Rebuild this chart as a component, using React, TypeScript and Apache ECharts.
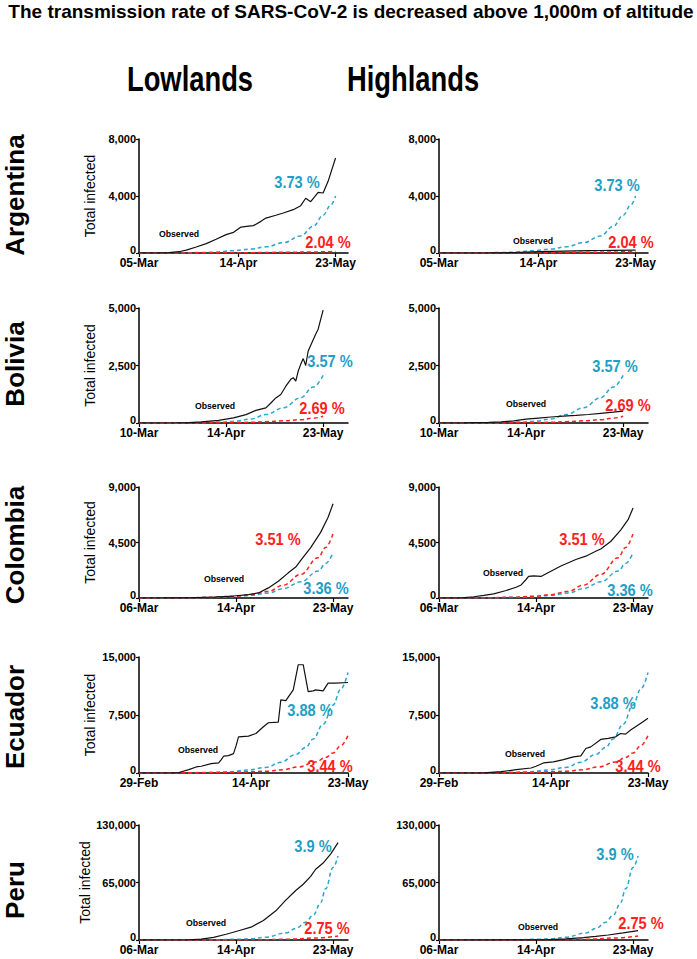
import React, { useEffect, useRef } from "react";
import * as echarts from "echarts";

// ---------- axis categories (dates) ----------
const MONTHS = ["Jan", "Feb", "Mar", "Apr", "May", "Jun", "Jul"];
const DAY_COUNT = 85; // 0..84 days shown on each axis

// start dates (month, day) per country
const argStart = [3, 5];
const bolStart = [3, 10];
const colStart = [3, 6];
const ecuStart = [2, 29];
const perStart = [3, 6];

// labelled ticks (day offsets): first date, 14-Apr, 23-May
const argTicks = [0, 40, 79];
const bolTicks = [0, 35, 74];
const colTicks = [0, 39, 78];
const ecuTicks = [0, 45, 84];
const perTicks = [0, 39, 78];

// y-axis maxima
const yMaxes = [8000, 5000, 9000, 15000, 130000];

// ---------- data: [day offset, total infected] ----------
// Argentina
const argLowObs = [[0, 0], [8, 5], [12, 25], [16, 90], [19, 200], [23, 420], [27, 660], [31, 960], [35, 1290], [38, 1450], [41, 1820], [44, 1880], [46, 1920], [49, 2220], [51, 2450], [55, 2650], [58, 2810], [62, 3040], [65, 3320], [67, 3840], [69, 3600], [72, 4260], [74, 4210], [76, 5030], [79, 6670]];
const argHighObs = [[0, 0], [20, 5], [25, 15], [30, 35], [35, 60], [40, 90], [45, 115], [50, 135], [55, 150], [60, 165], [65, 175], [70, 185], [79, 200]];
const argBlue = [[0, 0], [15, 10], [25, 30], [30, 60], [38, 160], [45, 280], [51, 430], [58, 720], [65, 1200], [70, 1870], [74, 2650], [77, 3350], [79, 4000]];
const argRed = [[0, 0], [30, 10], [45, 25], [60, 50], [70, 75], [79, 100]];

// Bolivia
const bolLowObs = [[0, 0], [15, 10], [20, 20], [25, 45], [32, 115], [38, 220], [43, 365], [47, 550], [51, 660], [53, 870], [55, 1090], [57, 1240], [59, 1600], [61, 1900], [62, 1970], [63, 1820], [64, 2260], [65, 2550], [66, 2800], [67, 2500], [68, 3130], [71, 3860], [72, 4080], [74, 4910]];
const bolHighObs = [[0, 0], [10, 5], [20, 25], [25, 50], [30, 90], [35, 170], [40, 215], [45, 260], [50, 295], [55, 330], [60, 370], [65, 420], [70, 470], [74, 520]];
const bolBlue = [[0, 0], [15, 5], [25, 15], [32, 40], [38, 75], [45, 175], [51, 365], [58, 660], [65, 1100], [70, 1560], [74, 2070]];
const bolRed = [[0, 0], [25, 5], [38, 15], [45, 30], [51, 58], [58, 95], [65, 146], [70, 210], [74, 290]];

// Colombia
const colLowObs = [[0, 0], [10, 5], [20, 20], [30, 80], [38, 160], [44, 270], [48, 410], [52, 820], [56, 1360], [60, 2040], [63, 2510], [65, 3050], [69, 4090], [73, 5320], [76, 6550], [78, 7640]];
const colHighObs = [[0, 0], [9, 10], [14, 100], [18, 210], [22, 340], [27, 610], [31, 870], [33, 1060], [35, 1500], [36, 1750], [38, 1800], [41, 1750], [44, 2070], [49, 2590], [55, 3120], [59, 3390], [63, 3790], [65, 3970], [69, 4580], [73, 5510], [76, 6350], [78, 7300]];
const colRed = [[0, 0], [20, 20], [30, 60], [38, 140], [45, 270], [52, 545], [58, 1040], [65, 1910], [72, 3270], [75, 4100], [78, 5230]];
const colBlue = [[0, 0], [20, 15], [30, 50], [38, 110], [45, 220], [52, 410], [58, 760], [65, 1310], [72, 2180], [75, 2800], [78, 3680]];

// Ecuador
const ecuLowObs = [[0, 0], [14, 10], [16, 60], [20, 430], [23, 780], [25, 870], [29, 1210], [32, 1300], [33, 1700], [34, 2170], [36, 2250], [38, 2510], [39, 3500], [40, 4680], [44, 4770], [47, 5110], [50, 5980], [52, 6500], [56, 6590], [57, 9450], [59, 9360], [62, 10750], [64, 14000], [66, 14000], [68, 10530], [70, 10620], [71, 10750], [74, 10620], [76, 11620], [79, 11620], [84, 11700]];
const ecuHighObs = [[0, 0], [18, 10], [25, 170], [31, 430], [37, 650], [39, 870], [42, 1300], [46, 1430], [50, 1730], [54, 2080], [57, 2210], [59, 3170], [61, 3380], [65, 4340], [68, 4470], [71, 4680], [73, 5110], [75, 5030], [77, 5550], [79, 5980], [82, 6630], [84, 7070]];
const ecuBlue = [[0, 0], [20, 30], [30, 90], [37, 175], [44, 400], [51, 720], [57, 1400], [63, 2400], [67, 3300], [70, 4400], [74, 6300], [78, 8800], [81, 10800], [84, 13000]];
const ecuRed = [[0, 0], [25, 20], [35, 60], [44, 150], [51, 220], [58, 430], [64, 780], [71, 1430], [75, 2000], [78, 2600], [81, 3500], [84, 4850]];

// Peru
const perLowObs = [[0, 0], [10, 10], [20, 300], [25, 1000], [30, 3000], [35, 6500], [40, 10500], [45, 14500], [50, 22000], [55, 33000], [59, 45000], [63, 56000], [66, 63000], [69, 72000], [71, 80000], [74, 87000], [77, 97000], [80, 110000]];
const perHighObs = [[0, 0], [30, 50], [38, 150], [45, 400], [51, 1200], [58, 2640], [63, 4000], [68, 5650], [74, 8000], [80, 10500]];
const perBlue = [[0, 0], [30, 200], [40, 900], [45, 1500], [51, 3200], [59, 8000], [63, 13000], [67, 20000], [70, 28000], [73, 42000], [75, 58000], [78, 82000], [80, 95000]];
const perRed = [[0, 0], [40, 100], [50, 300], [60, 900], [70, 2200], [80, 4500]];

// ---------- texts ----------
const TITLE = "The transmission rate of SARS-CoV-2 is decreased above 1,000m of altitude";
const COLUMN_TITLES = ["Lowlands", "Highlands"];
const COUNTRY_NAMES = ["Argentina", "Bolivia", "Colombia", "Ecuador", "Peru"];
const BLUE_RATES = ["3.73 %", "3.57 %", "3.36 %", "3.88 %", "3.9 %"];
const RED_RATES = ["2.04 %", "2.69 %", "3.51 %", "3.44 %", "2.75 %"];

// ---------- layout (positions only) ----------
const ROW_TOPS = [139, 308, 487, 657, 825];
const ROW_BOTTOMS = [253, 423, 598, 773, 940];
const COL_LEFTS = [139, 439];
const PLOT_W = 209;
const COUNTRY_POS = [[15, 195], [15, 364], [15, 545], [15, 717], [15, 890]];
// per panel: [blue label x,y], [red label x,y], [observed x,y]  (rows x cols)
const BLUE_POS = [[[297, 182], [617, 185]], [[330, 361], [615, 366]], [[326, 588], [630, 590]], [[310, 710], [613, 703]], [[313, 846], [615, 854]]];
const RED_POS = [[[328, 242], [631, 242]], [[322, 408], [628, 405]], [[278, 539], [582, 539]], [[330, 766], [638, 766]], [[327, 928], [641, 923]]];
const OBS_POS = [[[179, 234], [533, 241]], [[215, 406], [526, 404]], [[224, 579], [503, 573]], [[198, 750], [525, 754]], [[206, 923], [538, 927]]];

const BLUE = "#2aa5cc";
const BLUE_TXT = "#1f9ec4";
const RED = "#ff2020";
const FONT = '"Liberation Sans", Arial, Helvetica, sans-serif';

function dayLabels(start: number[]): string[] {
  const out: string[] = [];
  for (let i = 0; i < DAY_COUNT; i++) {
    const d = new Date(Date.UTC(2020, start[0] - 1, start[1] + i));
    out.push(String(d.getUTCDate()).padStart(2, "0") + "-" + MONTHS[d.getUTCMonth()]);
  }
  return out;
}

function hasFont(name: string): boolean {
  try {
    const c = document.createElement("canvas").getContext("2d");
    if (!c) return false;
    const s = "abcdefghijklmnopMW05-Mar";
    c.font = "20px monospace";
    const a = c.measureText(s).width;
    c.font = `20px "${name}", monospace`;
    const b = c.measureText(s).width;
    return Math.abs(a - b) > 0.5;
  } catch (e) {
    return false;
  }
}

function buildOption() {
  const narrow = hasFont("Liberation Sans Narrow");
  const axisFont = narrow ? '"Liberation Sans Narrow", "Liberation Sans", Arial, sans-serif' : FONT;
  const xFontSize = narrow ? 13.5 : 12;
  const yFontSize = narrow ? 12.5 : 11;

  const countries = [
    { start: argStart, ticks: argTicks, obs: [argLowObs, argHighObs], blue: argBlue, red: argRed },
    { start: bolStart, ticks: bolTicks, obs: [bolLowObs, bolHighObs], blue: bolBlue, red: bolRed },
    { start: colStart, ticks: colTicks, obs: [colLowObs, colHighObs], blue: colBlue, red: colRed },
    { start: ecuStart, ticks: ecuTicks, obs: [ecuLowObs, ecuHighObs], blue: ecuBlue, red: ecuRed },
    { start: perStart, ticks: perTicks, obs: [perLowObs, perHighObs], blue: perBlue, red: perRed },
  ];

  const grid: any[] = [];
  const xAxis: any[] = [];
  const yAxis: any[] = [];
  const series: any[] = [];
  const graphic: any[] = [];

  countries.forEach((c, i) => {
    const cats = dayLabels(c.start);
    const tickFn = (k: number) => c.ticks.indexOf(k) >= 0;
    for (let j = 0; j < 2; j++) {
      const idx = i * 2 + j;
      grid.push({
        left: COL_LEFTS[j],
        top: ROW_TOPS[i],
        width: PLOT_W,
        height: ROW_BOTTOMS[i] - ROW_TOPS[i],
        containLabel: false,
        outerBoundsMode: "none",
      });
      xAxis.push({
        type: "category",
        gridIndex: idx,
        data: cats,
        boundaryGap: false,
        axisLine: { show: true, onZero: false, lineStyle: { color: "#000", width: 1.5 } },
        axisTick: { show: true, interval: tickFn, length: 4, lineStyle: { color: "#000", width: 1.2 } },
        axisLabel: {
          interval: tickFn,
          color: "#000",
          fontWeight: "bold",
          fontSize: xFontSize,
          fontFamily: axisFont,
          margin: 4,
        },
        splitLine: { show: false },
      });
      yAxis.push({
        type: "value",
        gridIndex: idx,
        min: 0,
        max: yMaxes[i],
        interval: yMaxes[i] / 2,
        axisLine: { show: true, lineStyle: { color: "#000", width: 1.5 } },
        axisTick: { show: true, length: 3, lineStyle: { color: "#000", width: 1.2 } },
        splitLine: { show: false },
        axisLabel: {
          color: "#000",
          fontWeight: "bold",
          fontSize: yFontSize,
          fontFamily: axisFont,
          margin: 3,
          formatter: (v: number) => (v === 0 ? "{z|0}" : v.toLocaleString("en-US")),
          rich: {
            z: {
              color: "#000",
              fontWeight: "bold",
              fontSize: yFontSize,
              fontFamily: axisFont,
              padding: [0, 0, 7, 0],
            },
          },
        },
        name: j === 0 ? "Total infected" : "",
        nameLocation: "middle",
        nameGap: 42,
        nameTextStyle: { color: "#000", fontSize: 14, fontFamily: FONT },
      });
      series.push({
        type: "line",
        name: "blue" + idx,
        xAxisIndex: idx,
        yAxisIndex: idx,
        data: c.blue,
        symbol: "none",
        smooth: 0.4,
        smoothMonotone: "x",
        silent: true,
        z: 2,
        lineStyle: { color: BLUE, width: 1.5, type: [4, 3] },
      });
      series.push({
        type: "line",
        name: "red" + idx,
        xAxisIndex: idx,
        yAxisIndex: idx,
        data: c.red,
        symbol: "none",
        smooth: 0.4,
        smoothMonotone: "x",
        silent: true,
        z: 2,
        lineStyle: { color: RED, width: 1.5, type: [4, 3] },
      });
      series.push({
        type: "line",
        name: "obs" + idx,
        xAxisIndex: idx,
        yAxisIndex: idx,
        data: c.obs[j],
        symbol: "none",
        silent: true,
        z: 3,
        lineStyle: { color: "#111", width: 1.2 },
      });

      const ann = [
        { t: BLUE_RATES[i], p: BLUE_POS[i][j], color: BLUE_TXT, size: 17, sx: 0.86 },
        { t: RED_RATES[i], p: RED_POS[i][j], color: RED, size: 17, sx: 0.86 },
        { t: "Observed", p: OBS_POS[i][j], color: "#000", size: 9.5, sx: 0.92 },
      ];
      ann.forEach((a) => {
        graphic.push({
          type: "text",
          x: a.p[0],
          y: a.p[1],
          scaleX: a.sx,
          silent: true,
          z: 10,
          style: {
            text: a.t,
            fill: a.color,
            font: `bold ${a.size}px ${FONT}`,
            textAlign: "center",
            textVerticalAlign: "middle",
            align: "center",
            verticalAlign: "middle",
          },
        });
      });
    }

    graphic.push({
      type: "text",
      x: COUNTRY_POS[i][0],
      y: COUNTRY_POS[i][1],
      rotation: Math.PI / 2,
      silent: true,
      style: {
        text: COUNTRY_NAMES[i],
        fill: "#000",
        font: `bold 26px ${FONT}`,
        textAlign: "center",
        textVerticalAlign: "middle",
        align: "center",
        verticalAlign: "middle",
      },
    });
  });

  graphic.push({
    type: "text",
    x: 351,
    y: 11,
    silent: true,
    style: {
      text: TITLE,
      fill: "#000",
      font: `bold 19px ${FONT}`,
      textAlign: "center",
      textVerticalAlign: "middle",
      align: "center",
      verticalAlign: "middle",
    },
  });
  [[190, 79], [413, 79]].forEach((p, j) => {
    graphic.push({
      type: "text",
      x: p[0],
      y: p[1],
      scaleX: 0.76,
      silent: true,
      style: {
        text: COLUMN_TITLES[j],
        fill: "#000",
        font: `bold 36px ${FONT}`,
        textAlign: "center",
        textVerticalAlign: "middle",
        align: "center",
        verticalAlign: "middle",
      },
    });
  });

  return {
    animation: false,
    backgroundColor: "#fff",
    textStyle: { fontFamily: FONT },
    grid,
    xAxis,
    yAxis,
    series,
    graphic: { elements: graphic },
  };
}

export default function App() {
  const ref = useRef<HTMLDivElement>(null);
  useEffect(() => {
    if (!ref.current) return;
    const chart = echarts.init(ref.current, null, { renderer: "svg" });
    chart.setOption(buildOption() as any);
    return () => chart.dispose();
  }, []);
  return (
    <div
      ref={ref}
      style={{ position: "fixed", left: 0, top: 0, width: 697, height: 959, background: "#fff" }}
    />
  );
}
